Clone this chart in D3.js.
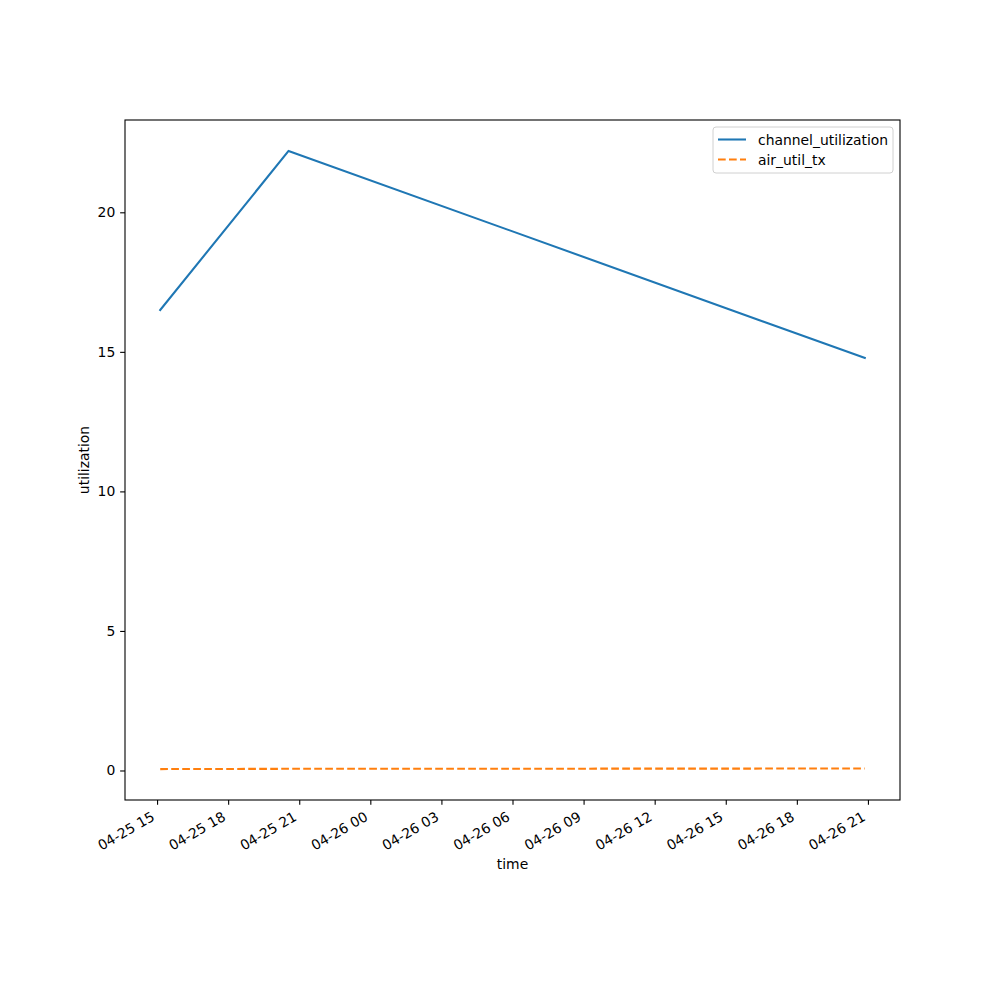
<!DOCTYPE html>
<html>
<head>
<meta charset="utf-8">
<script src="https://cdn.jsdelivr.net/npm/d3@7"></script>
<style>
  body { margin: 0; background: #fff; }
  text { font-family: "DejaVu Sans", sans-serif; }
</style>
</head>
<body>
<svg id="chart" width="1000" height="1000"></svg>
<script>
// ---- data ----
const times = ["2024-04-25T15:08:00", "2024-04-25T20:33:00", "2024-04-26T20:52:00"];
const channelUtilization = [16.5, 22.2, 14.78];
const airUtilTx = [0.05, 0.06, 0.07];
const seriesNames = ["channel_utilization", "air_util_tx"];
const yTicks = [0, 5, 10, 15, 20];
const xTickStart = "2024-04-25T15:00:00";
const xTickEnd = "2024-04-26T21:00:00";
const xLabel = "time";
const yLabel = "utilization";

// ---- layout ----
const L = 125, R = 900, T = 120, B = 800;
const fs = 13.9;
const svg = d3.select("#chart");
const parse = d3.timeParse("%Y-%m-%dT%H:%M:%S");
const dates = times.map(parse);

const t0 = dates[0].getTime(), t1 = dates[dates.length - 1].getTime();
const padT = (t1 - t0) * 0.05;
const x = d3.scaleTime().domain([new Date(t0 - padT), new Date(t1 + padT)]).range([L, R]);

const allY = channelUtilization.concat(airUtilTx);
const y0 = d3.min(allY), y1 = d3.max(allY);
const padY = (y1 - y0) * 0.05;
const y = d3.scaleLinear().domain([y0 - padY, y1 + padY]).range([B, T]);

// ---- lines ----
const line = d3.line().x((d, i) => x(dates[i])).y(d => y(d));
svg.append("path").datum(channelUtilization).attr("d", line)
  .attr("fill", "none").attr("stroke", "#1f77b4").attr("stroke-width", 2.08)
  .attr("stroke-linecap", "square").attr("stroke-linejoin", "round");
svg.append("path").datum(airUtilTx).attr("d", line)
  .attr("fill", "none").attr("stroke", "#ff7f0e").attr("stroke-width", 2.08)
  .attr("stroke-dasharray", "7.7,3.3");

// ---- axes ----
const xTicks = d3.timeHour.every(3).range(parse(xTickStart), new Date(parse(xTickEnd).getTime() + 1));
const fmt = d3.timeFormat("%m-%d %H");
const xAxis = d3.axisBottom(x).tickValues(xTicks).tickFormat(fmt).tickSizeInner(4.86).tickSizeOuter(0).tickPadding(4.86);
const gx = svg.append("g").attr("transform", `translate(0,${B})`).call(xAxis);
gx.select(".domain").remove();
gx.selectAll(".tick line").attr("stroke", "#000").attr("stroke-width", 1.1);
gx.selectAll(".tick text")
  .attr("font-size", fs).attr("fill", "#000").attr("font-family", "DejaVu Sans")
  .attr("text-anchor", "end")
  .attr("y", 0).attr("dy", 0)
  .attr("transform", "translate(-2,19.5) rotate(-30)");

const yAxis = d3.axisLeft(y).tickValues(yTicks).tickFormat(d3.format("d")).tickSizeInner(4.86).tickSizeOuter(0).tickPadding(4.86);
const gy = svg.append("g").attr("transform", `translate(${L},0)`).call(yAxis);
gy.select(".domain").remove();
gy.selectAll(".tick line").attr("stroke", "#000").attr("stroke-width", 1.1);
gy.selectAll(".tick text").attr("font-size", fs).attr("fill", "#000").attr("font-family", "DejaVu Sans");

// frame
svg.append("rect").attr("x", L).attr("y", T).attr("width", R - L).attr("height", B - T)
  .attr("fill", "none").attr("stroke", "#000").attr("stroke-width", 1.1);

// axis labels
svg.append("text").attr("x", (L + R) / 2).attr("y", 869).attr("text-anchor", "middle")
  .attr("font-size", fs).text(xLabel);
svg.append("text").attr("transform", `translate(89,${(T + B) / 2}) rotate(-90)`)
  .attr("text-anchor", "middle").attr("font-size", fs).text(yLabel);

// ---- legend ----
const lg = svg.append("g");
lg.append("rect").attr("x", 713).attr("y", 127).attr("width", 180).attr("height", 46)
  .attr("rx", 3).attr("fill", "#fff").attr("fill-opacity", 0.8)
  .attr("stroke", "#d0d0d0").attr("stroke-width", 1);
const colors = ["#1f77b4", "#ff7f0e"];
const dashes = [null, "7.7,3.3"];
seriesNames.forEach((name, i) => {
  const yy = 139.5 + i * 20;
  lg.append("line").attr("x1", 718).attr("x2", 746).attr("y1", yy).attr("y2", yy)
    .attr("stroke", colors[i]).attr("stroke-width", 2.08).attr("stroke-dasharray", dashes[i]);
  lg.append("text").attr("x", 758).attr("y", yy + 5).attr("font-size", fs).text(name);
});
</script>
</body>
</html>
